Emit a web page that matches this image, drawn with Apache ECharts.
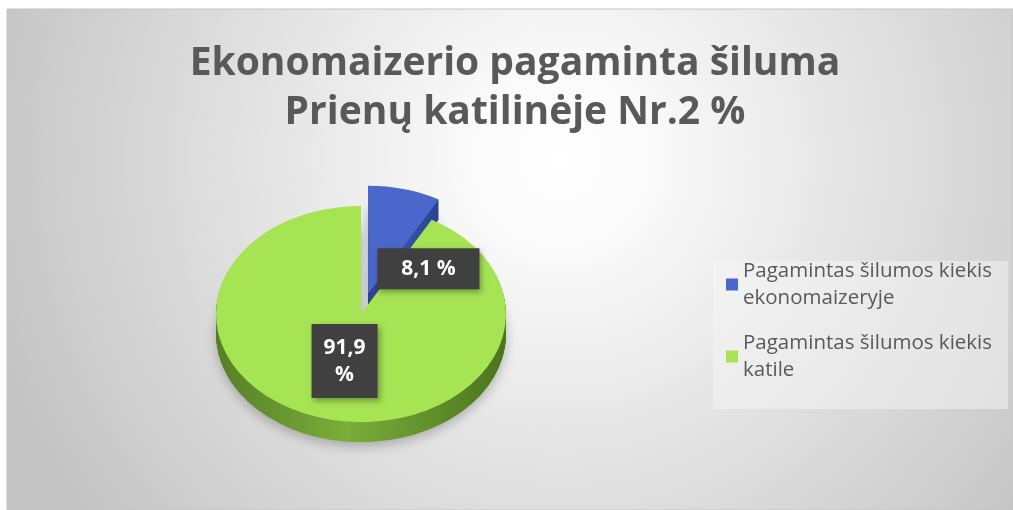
<!DOCTYPE html>
<html>
<head>
<meta charset="utf-8">
<script src="https://cdn.jsdelivr.net/npm/echarts@6/dist/echarts.min.js"></script>
<style>
  html, body { margin: 0; padding: 0; background: #fff; }
  #chart { width: 1013px; height: 510px; }
</style>
</head>
<body>
<div id="chart"></div>
<script>
// data
const categories = ['Pagamintas šilumos kiekis ekonomaizeryje', 'Pagamintas šilumos kiekis katile'];
const values = [8.1, 91.9];
const titleLines = ['Ekonomaizerio pagaminta šiluma', 'Prienų katilinėje Nr.2 %'];

// looks
const topColors = ['#4b67cb', '#a6e454'];
const sideColors = [
  ['#2c4190', '#3a54b2', '#2c4190'],
  ['#577f26', '#7aae39', '#4a741e']
];
const explode = [28, 0];
const labelShift = [[44, 22], [0, 0]];
const labelBox = [
  { width: 80, padding: [8, 11], lineHeight: 25, wrap: false },
  { width: 46, padding: [10, 10], lineHeight: 27, wrap: true }
];
const pie = { cx: 361, cy: 314, rx: 145, ry: 108, depth: 20 };
const legendFont = '20.5px "Open Sans"';

const total = values.reduce((a, b) => a + b, 0);

function fmt(v, wrap) {
  return String(v).replace('.', ',') + (wrap ? '\n' : ' ') + '%';
}

// word wrap for legend names, no leading blanks on the next line
const measureCtx = document.createElement('canvas').getContext('2d');
function wrapText(text, maxW) {
  measureCtx.font = legendFont;
  const words = text.split(' ');
  const lines = [];
  let cur = '';
  words.forEach(function (w) {
    const test = cur ? cur + ' ' + w : w;
    if (cur && measureCtx.measureText(test).width > maxW) {
      lines.push(cur);
      cur = w;
    } else {
      cur = test;
    }
  });
  if (cur) lines.push(cur);
  return lines.join('\n');
}

function renderSlice(params, api) {
  const idx = params.seriesIndex;
  const v = api.value(0);
  let start = 0;
  for (let i = 0; i < idx; i++) start += values[i];
  const a0 = -Math.PI / 2 + 2 * Math.PI * start / total;
  const a1 = a0 + 2 * Math.PI * v / total;
  const mid = (a0 + a1) / 2;
  const s = pie.ry / pie.rx;
  const ox = explode[idx] * Math.cos(mid);
  const oy = explode[idx] * Math.sin(mid) * s;

  const sc = sideColors[idx];
  const sideFill = new echarts.graphic.LinearGradient(0, 0, 1, 0, [
    { offset: 0, color: sc[0] },
    { offset: 0.45, color: sc[1] },
    { offset: 1, color: sc[2] }
  ]);

  const children = [];
  const n = Math.round(pie.depth / s);
  for (let k = n; k >= 1; k--) {
    const layer = {
      type: 'sector',
      z2: idx * 100 + (n - k),
      shape: { cx: 0, cy: k, r: pie.rx, r0: 0, startAngle: a0, endAngle: a1, clockwise: true },
      style: { fill: sideFill }
    };
    if (k === n) {
      layer.style.shadowBlur = 12;
      layer.style.shadowColor = 'rgba(0,0,0,0.25)';
      layer.style.shadowOffsetY = 4;
    }
    children.push(layer);
  }
  children.push({
    type: 'sector',
    z2: idx * 100 + 90,
    shape: { cx: 0, cy: 0, r: pie.rx, r0: 0, startAngle: a0, endAngle: a1, clockwise: true },
    style: { fill: topColors[idx] }
  });

  const lb = labelBox[idx];
  const lx = pie.cx + ox + 0.45 * pie.rx * Math.cos(mid) + labelShift[idx][0];
  const ly = pie.cy + oy + 0.45 * pie.rx * Math.sin(mid) * s + labelShift[idx][1];

  return {
    type: 'group',
    children: [
      {
        type: 'group',
        x: pie.cx + ox,
        y: pie.cy + oy,
        scaleY: s,
        children: children
      },
      {
        type: 'text',
        x: lx,
        y: ly,
        z2: 500,
        style: {
          text: fmt(v, lb.wrap),
          fill: '#ffffff',
          fontFamily: 'Open Sans',
          fontWeight: 'bold',
          fontSize: 21,
          lineHeight: lb.lineHeight,
          width: lb.width,
          align: 'center',
          verticalAlign: 'middle',
          backgroundColor: '#404040',
          padding: lb.padding,
          shadowBlur: 6,
          shadowColor: 'rgba(0,0,0,0.35)',
          shadowOffsetX: 2,
          shadowOffsetY: 3
        }
      }
    ]
  };
}

const chart = echarts.init(document.getElementById('chart'));

const option = {
  animation: false,
  graphic: [
    {
      type: 'rect',
      z: -10,
      silent: true,
      shape: { x: 7, y: 9, width: 1006, height: 501 },
      style: {
        fill: new echarts.graphic.RadialGradient(0.55, 0.3, 1.2, [
          { offset: 0, color: '#ffffff' },
          { offset: 0.15, color: '#fafafa' },
          { offset: 1, color: '#c3c3c3' }
        ]),
        stroke: '#c4c4c4',
        lineWidth: 1
      }
    },
    {
      type: 'rect',
      z: -5,
      silent: true,
      shape: { x: 713, y: 261, width: 295, height: 148 },
      style: { fill: 'rgba(245,245,245,0.5)' }
    }
  ],
  title: {
    text: titleLines.join('\n'),
    left: 515,
    top: 39,
    padding: 0,
    textAlign: 'center',
    textStyle: {
      fontFamily: 'Open Sans',
      fontWeight: 'bold',
      fontSize: 39,
      lineHeight: 49,
      color: '#595959'
    }
  },
  legend: {
    data: categories,
    orient: 'vertical',
    left: 726,
    top: 244,
    padding: 0,
    itemGap: -9,
    itemWidth: 12,
    itemHeight: 12,
    icon: 'rect',
    formatter: function (name) {
      return wrapText(name, 262);
    },
    textStyle: {
      fontFamily: 'Open Sans',
      fontSize: 20.5,
      lineHeight: 27,
      color: '#595959',
      padding: [27, 0, 0, 0]
    }
  },
  series: categories.map(function (name, i) {
    return {
      name: name,
      type: 'custom',
      coordinateSystem: 'none',
      itemStyle: { color: topColors[i] },
      renderItem: renderSlice,
      data: [[values[i]]]
    };
  })
};

chart.setOption(option);
</script>
</body>
</html>
